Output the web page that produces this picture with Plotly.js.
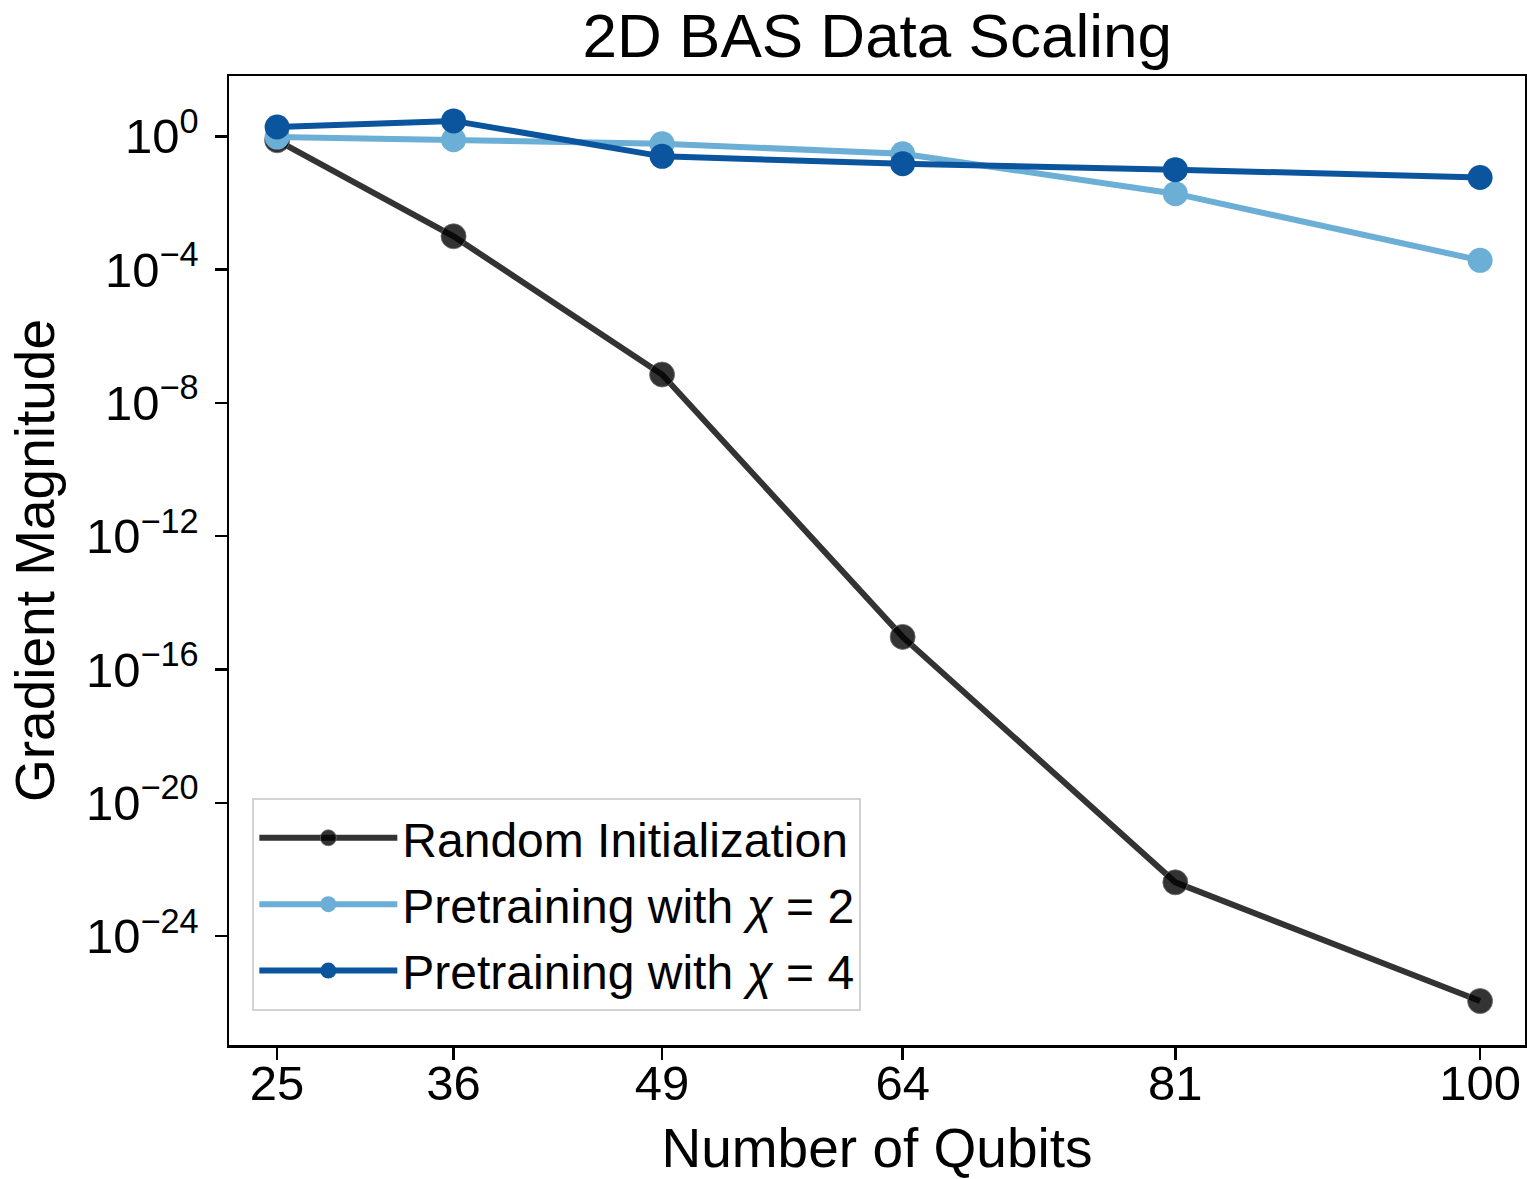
<!DOCTYPE html>
<html>
<head>
<meta charset="utf-8">
<script src="https://cdn.plot.ly/plotly-3.0.1.min.js"></script>
<style>
  html, body { margin: 0; padding: 0; background: #ffffff; }
  #chart { width: 1527px; height: 1179px; }
</style>
</head>
<body>
<div id="chart"></div>
<script>
// Number of qubits
const qubits = [25, 36, 49, 64, 81, 100];

// Gradient magnitudes
const randomInit = [0.76, 1.0e-3, 7.1e-8, 9.5e-16, 4.1e-23, 1.12e-26];
const pretrainChi2 = [0.95, 0.79, 0.60, 0.30, 0.019, 1.9e-4];
const pretrainChi4 = [1.9, 2.9, 0.25, 0.15, 0.10, 0.058];

const seriesNames = ["Random Initialization", "Pretraining with <i>\u03c7</i> = 2", "Pretraining with <i>\u03c7</i> = 4"];

// Tick labels
const xTickVals = [25, 36, 49, 64, 81, 100];
const xTickText = ["25", "36", "49", "64", "81", "100"];
const yTickExps = [0, -4, -8, -12, -16, -20, -24];
const yTickVals = yTickExps.map(e => Math.pow(10, e));
const yTickText = yTickExps.map(e => "10<sup>" + (e < 0 ? "\u2212" + (-e) : String(e)) + "</sup>");

const FONT = "Liberation Sans, Arial, Helvetica, sans-serif";

const traces = [
  {
    x: qubits, y: randomInit, name: seriesNames[0], type: "scatter", mode: "lines+markers",
    legendgroup: "g1",
    line: { color: "rgba(0,0,0,0.8)", width: 6 },
    marker: { color: "rgba(0,0,0,0.8)", size: 25, line: { color: "rgba(110,110,110,0.8)", width: 1 } }
  },
  {
    x: qubits, y: pretrainChi2, name: seriesNames[1], type: "scatter", mode: "lines+markers",
    legendgroup: "g2",
    line: { color: "#6baed6", width: 6 },
    marker: { color: "#6baed6", size: 25 }
  },
  {
    x: qubits, y: pretrainChi4, name: seriesNames[2], type: "scatter", mode: "lines+markers",
    legendgroup: "g3",
    line: { color: "#0b559f", width: 6 },
    marker: { color: "#0b559f", size: 25 }
  }
];

const layout = {
  width: 1527, height: 1179,
  margin: { l: 229, r: 2, t: 76, b: 134, pad: 0 },
  paper_bgcolor: "#ffffff", plot_bgcolor: "#ffffff",
  font: { family: FONT, color: "#000000", size: 48 },
  showlegend: true,
  title: {
    text: "2D BAS Data Scaling",
    font: { family: FONT, size: 62, color: "#000000" },
    x: 0.5745, xanchor: "center", y: 0.97, yanchor: "middle"
  },
  xaxis: {
    type: "linear", range: [22.0, 102.8],
    tickmode: "array", tickvals: xTickVals, ticktext: xTickText,
    ticks: "outside", ticklen: 12, tickwidth: 2.5, tickcolor: "#000",
    ticklabelstandoff: -18,
    showline: true, linecolor: "#000", linewidth: 2.5, mirror: true,
    showgrid: false, zeroline: false,
    tickfont: { family: FONT, size: 49, color: "#000" },
    title: { text: "Number of Qubits", font: { family: FONT, size: 55, color: "#000" }, standoff: 27 }
  },
  yaxis: {
    type: "log", range: [-27.27, 1.81],
    tickmode: "array", tickvals: yTickVals, ticktext: yTickText,
    ticks: "outside", ticklen: 12, tickwidth: 2.5, tickcolor: "#000",
    ticklabelstandoff: 6,
    showline: true, linecolor: "#000", linewidth: 2.5, mirror: true,
    showgrid: false, zeroline: false,
    tickfont: { family: FONT, size: 49, color: "#000" },
    title: { text: "Gradient Magnitude", font: { family: FONT, size: 55, color: "#000" }, standoff: 14 }
  },
  legend: {
    x: 0.018, y: 0.2548, xanchor: "left", yanchor: "top",
    bgcolor: "rgba(255,255,255,0.8)", bordercolor: "#d3d3d3", borderwidth: 2,
    font: { family: FONT, size: 48, color: "#000" },
    itemsizing: "trace", itemwidth: 138,
    traceorder: "grouped", tracegroupgap: 1
  }
};

Plotly.newPlot("chart", traces, layout, { displayModeBar: false, staticPlot: true });
</script>
</body>
</html>
